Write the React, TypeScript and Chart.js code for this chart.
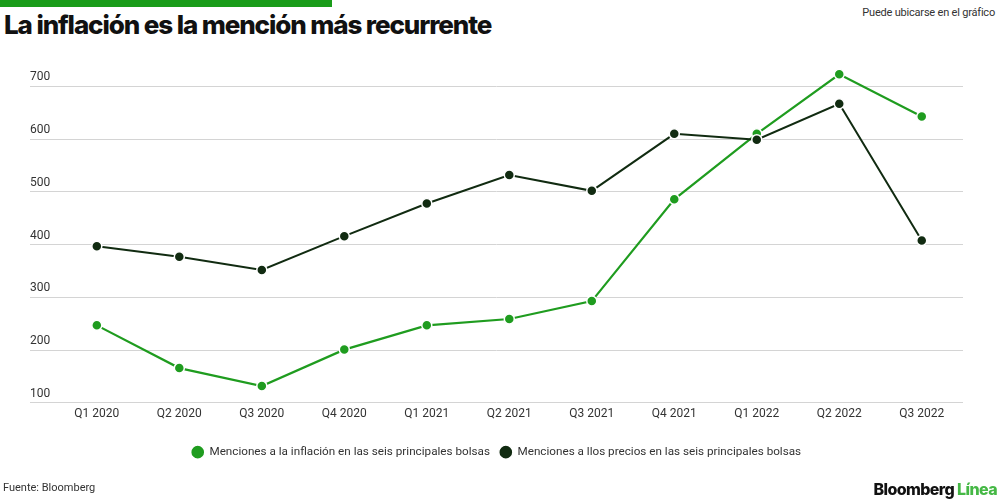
import React, { useEffect, useRef } from "react";
import { Chart, registerables } from "chart.js";

Chart.register(...registerables);

const categories = [
  "Q1 2020", "Q2 2020", "Q3 2020", "Q4 2020",
  "Q1 2021", "Q2 2021", "Q3 2021", "Q4 2021",
  "Q1 2022", "Q2 2022", "Q3 2022",
];
const inflationMentions = [247, 166, 132, 201, 247, 259, 293, 486, 610, 723, 643];
const priceMentions = [397, 377, 352, 416, 478, 532, 502, 610, 599, 667, 408];
const yTicks = [100, 200, 300, 400, 500, 600, 700];
const inflationLabel = "Menciones a la inflación en las seis principales bolsas";
const pricesLabel = "Menciones a llos precios en las seis principales bolsas";

const GREEN = "#1f9c1f";
const DARK = "#112b11";
const TEXT = "#333333";
const FONT = "Roboto, 'Liberation Sans', sans-serif";

export default function App() {
  const ref = useRef<HTMLCanvasElement | null>(null);

  useEffect(() => {
    if (!ref.current) return;
    const chart = new Chart(ref.current, {
      type: "line",
      data: {
        datasets: [
          {
            label: pricesLabel,
            data: priceMentions.map((v, i) => ({ x: i, y: v })),
            borderColor: DARK,
            backgroundColor: DARK,
            borderWidth: 2,
            pointRadius: 5,
            pointBorderColor: "#ffffff",
            pointBorderWidth: 1.5,
            pointBackgroundColor: DARK,
            pointStyle: "circle",
            tension: 0,
          },
          {
            label: inflationLabel,
            data: inflationMentions.map((v, i) => ({ x: i, y: v })),
            borderColor: GREEN,
            backgroundColor: GREEN,
            borderWidth: 2.2,
            pointRadius: 5,
            pointBorderColor: "#ffffff",
            pointBorderWidth: 1.5,
            pointBackgroundColor: GREEN,
            pointStyle: "circle",
            tension: 0,
          },
        ],
      },
      options: {
        animation: false,
        responsive: true,
        maintainAspectRatio: false,
        layout: { padding: { top: 60, left: 30, right: 37, bottom: 32 } },
        plugins: {
          tooltip: { enabled: false },
          legend: {
            position: "bottom",
            reverse: true,
            labels: {
              usePointStyle: true,
              boxWidth: 14,
              boxHeight: 10,
              padding: 10,
              color: TEXT,
              font: { family: FONT, size: 11.7 },
            },
          },
        },
        scales: {
          x: {
            type: "linear",
            min: -0.81,
            max: 10.5,
            afterBuildTicks: (axis: any) => {
              axis.ticks = categories.map((_, i) => ({ value: i }));
            },
            afterFit: (axis: any) => {
              axis.height += 11;
            },
            grid: { display: false, drawTicks: false },
            border: { display: false },
            ticks: {
              autoSkip: false,
              maxRotation: 0,
              padding: 4,
              color: TEXT,
              font: { family: FONT, size: 12 },
              callback: (v: any) => categories[v as number] ?? "",
            },
          },
          y: {
            type: "linear",
            min: 100,
            max: 750,
            afterBuildTicks: (axis: any) => {
              axis.ticks = yTicks.map((v) => ({ value: v }));
            },
            grid: { color: "#d4d4d4", lineWidth: 1, drawTicks: false },
            border: { display: false },
            ticks: {
              mirror: true,
              padding: 0,
              labelOffset: -9,
              color: TEXT,
              font: { family: FONT, size: 12 },
            },
          },
        },
      },
    });
    return () => chart.destroy();
  }, []);

  return (
    <div
      style={{
        position: "fixed",
        left: 0,
        top: 0,
        width: 1000,
        height: 500,
        background: "#ffffff",
        overflow: "hidden",
        fontFamily: FONT,
      }}
    >
      <div style={{ position: "absolute", left: 0, top: 0, width: 332, height: 7, background: "#1a9c1a" }} />
      <div
        style={{
          position: "absolute",
          left: 4,
          top: 9,
          fontFamily: "Inter, sans-serif",
          fontWeight: 800,
          fontSize: 26,
          letterSpacing: -1.1,
          color: "#111111",
          whiteSpace: "nowrap",
          lineHeight: "32px",
        }}
      >
        La inflación es la mención más recurrente
      </div>
      <div
        style={{
          position: "absolute",
          right: 5,
          top: 6,
          fontSize: 11,
          color: TEXT,
          letterSpacing: -0.2,
          whiteSpace: "nowrap",
        }}
      >
        Puede ubicarse en el gráfico
      </div>
      <div style={{ position: "absolute", left: 0, top: 0, width: 1000, height: 500 }}>
        <canvas ref={ref} />
      </div>
      <div
        style={{
          position: "absolute",
          left: 3,
          top: 481,
          fontSize: 11,
          color: TEXT,
          whiteSpace: "nowrap",
        }}
      >
        Fuente: Bloomberg
      </div>
      <div
        style={{
          position: "absolute",
          right: 3,
          top: 479,
          fontFamily: "Inter, sans-serif",
          fontWeight: 800,
          fontSize: 16,
          letterSpacing: -0.6,
          whiteSpace: "nowrap",
        }}
      >
        <span style={{ color: "#111111" }}>Bloomberg </span>
        <span style={{ color: "#45b845" }}>Línea</span>
      </div>
    </div>
  );
}
